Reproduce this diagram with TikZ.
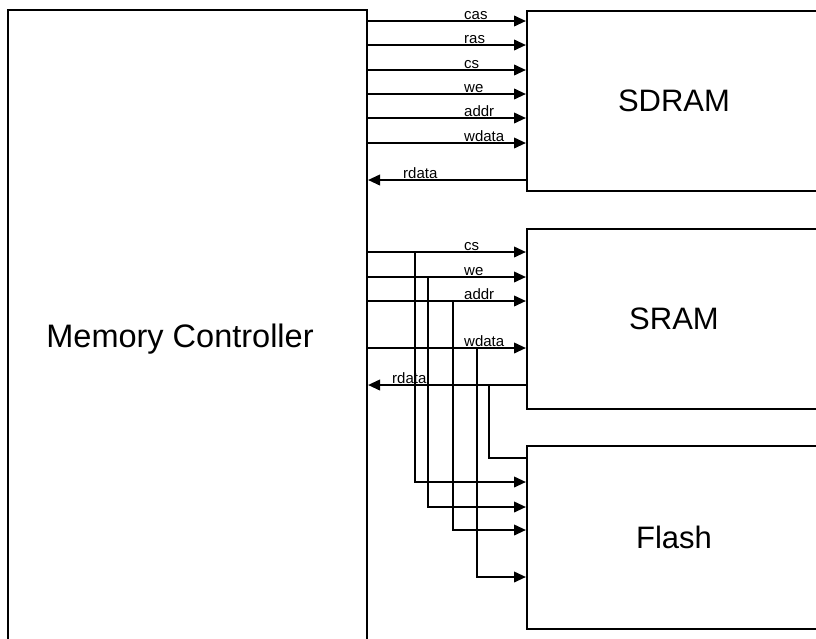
\documentclass[tikz,border=0pt]{standalone}
\usepackage{fontspec}
\setmainfont{Liberation Sans}
\usetikzlibrary{arrows.meta}
\begin{document}
\begin{tikzpicture}[x=1pt,y=-1pt,
  box/.style={draw, line width=2pt, rectangle, inner sep=0pt, anchor=north west},
  big/.style={font=\fontsize{31}{36}\selectfont},
  wire/.style={line width=2.2pt},
  sig/.style={wire, -{Triangle[length=12pt,width=10.5pt]}},
  lab/.style={font=\fontsize{15}{15}\selectfont, anchor=base west, inner sep=0pt}]
\useasboundingbox (0,0) rectangle (816,638);
\clip (0,0) rectangle (816,638);
% blocks
\node[box, minimum width=359pt, minimum height=662pt] (mc) at (7,9) {};
\node[font=\fontsize{32.5}{36}\selectfont] (mctxt) at (180,339) {Memory Controller};
\node[box, big, minimum width=294pt, minimum height=180pt] (sdram) at (526,10) {SDRAM};
\node[box, big, minimum width=294pt, minimum height=180pt] (sram) at (526,228) {SRAM};
\node[box, big, minimum width=294pt, minimum height=183pt] (flash) at (526,445) {Flash};
% SDRAM signals
\foreach \y/\t in {21/cas,45/ras,70/cs,94/we,118/addr,143/wdata} {
  \draw[sig] (mc.east |- 0,\y) -- (sdram.west |- 0,\y);
  \node[lab] (sd\t) at (464,\y-1.5) {\t};
}
\draw[sig] (sdram.west |- 0,180) -- (mc.east |- 0,180);
\node[lab] (sdrdata) at (403,178.5) {rdata};
% SRAM signals
\foreach \y/\t in {252/cs,277/we,301/addr,348/wdata} {
  \draw[sig] (mc.east |- 0,\y) -- (sram.west |- 0,\y);
  \node[lab] (sr\t) at (464,\y-1.5) {\t};
}
\draw[sig] (sram.west |- 0,385) -- (mc.east |- 0,385);
\node[lab] (srrdata) at (392,383.5) {rdata};
% branches to Flash
\coordinate (bcs) at (415,252);
\coordinate (bwe) at (428,277);
\coordinate (baddr) at (453,301);
\coordinate (bwdata) at (477,348);
\coordinate (brdata) at (489,385);
\draw[sig] (bcs) |- (flash.west |- 0,482);
\draw[sig] (bwe) |- (flash.west |- 0,507);
\draw[sig] (baddr) |- (flash.west |- 0,530);
\draw[sig] (bwdata) |- (flash.west |- 0,577);
\draw[wire] (flash.west |- 0,458) -| (brdata);
\end{tikzpicture}
\end{document}
